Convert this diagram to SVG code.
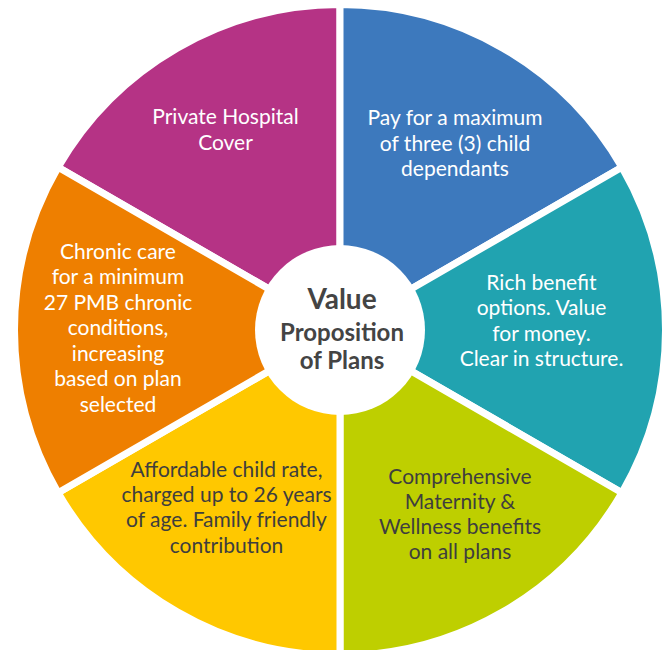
<svg xmlns="http://www.w3.org/2000/svg" width="663" height="650" viewBox="0 0 663 650">
<style>
.seg{stroke:#fff;stroke-width:7;stroke-linejoin:miter}
.t{font-family:Lato,"Noto Sans","Liberation Sans",sans-serif;font-size:21px;text-anchor:middle}
.w{fill:#fff}
.d{fill:#3e3e3e}
.c{font-family:Lato,"Noto Sans","Liberation Sans",sans-serif;font-weight:bold;text-anchor:middle;fill:#444}
</style>
<rect width="663" height="650" fill="#fff"/>
<g id="purple">
<path class="seg" fill="#B53385" d="M340,330 L340,4.5 A325.5,325.5 0 0 0 58.1,167.25 Z"/>
<text class="t w" x="225.5" y="124">Private Hospital</text>
<text class="t w" x="225.5" y="150">Cover</text>
</g>
<g id="blue">
<path class="seg" fill="#3D79BD" d="M340,330 L340,4.5 A325.5,325.5 0 0 1 621.9,167.25 Z"/>
<text class="t w" x="455" y="125">Pay for a maximum</text>
<text class="t w" x="455" y="150.5">of three (3) child</text>
<text class="t w" x="455" y="176">dependants</text>
</g>
<g id="teal">
<path class="seg" fill="#21A3B0" d="M340,330 L621.9,167.25 A325.5,325.5 0 0 1 621.9,492.75 Z"/>
<text class="t w" x="541.5" y="289.5">Rich benefit</text>
<text class="t w" x="541.5" y="315">options. Value</text>
<text class="t w" x="541.5" y="340.5">for money.</text>
<text class="t w" x="541.5" y="366">Clear in structure.</text>
</g>
<g id="green">
<path class="seg" fill="#BECF00" d="M340,330 L621.9,492.75 A325.5,325.5 0 0 1 340,655.5 Z"/>
<text class="t d" x="460" y="483.5">Comprehensive</text>
<text class="t d" x="460" y="508.5">Maternity &amp;</text>
<text class="t d" x="460" y="534">Wellness benefits</text>
<text class="t d" x="460" y="558.5">on all plans</text>
</g>
<g id="yellow">
<path class="seg" fill="#FFC800" d="M340,330 L340,655.5 A325.5,325.5 0 0 1 58.1,492.75 Z"/>
<text class="t d" x="226.5" y="476.5">Affordable child rate,</text>
<text class="t d" x="226.5" y="502">charged up to 26 years</text>
<text class="t d" x="226.5" y="527">of age. Family friendly</text>
<text class="t d" x="226.5" y="552.5">contribution</text>
</g>
<g id="orange">
<path class="seg" fill="#EE7F00" d="M340,330 L58.1,492.75 A325.5,325.5 0 0 1 58.1,167.25 Z"/>
<text class="t w" x="118" y="258.5">Chronic care</text>
<text class="t w" x="118" y="284">for a minimum</text>
<text class="t w" x="118" y="309.5">27 PMB chronic</text>
<text class="t w" x="118" y="335">conditions,</text>
<text class="t w" x="118" y="360.5">increasing</text>
<text class="t w" x="118" y="386">based on plan</text>
<text class="t w" x="118" y="411.5">selected</text>
</g>
<g id="center">
<circle cx="340" cy="330" r="85" fill="#fff"/>
<text class="c" x="342" y="309" font-size="28px">Value</text>
<text class="c" x="342" y="341" font-size="24px">Proposition</text>
<text class="c" x="342" y="369" font-size="24px">of Plans</text>
</g>
<g id="connectors"></g>
</svg>
